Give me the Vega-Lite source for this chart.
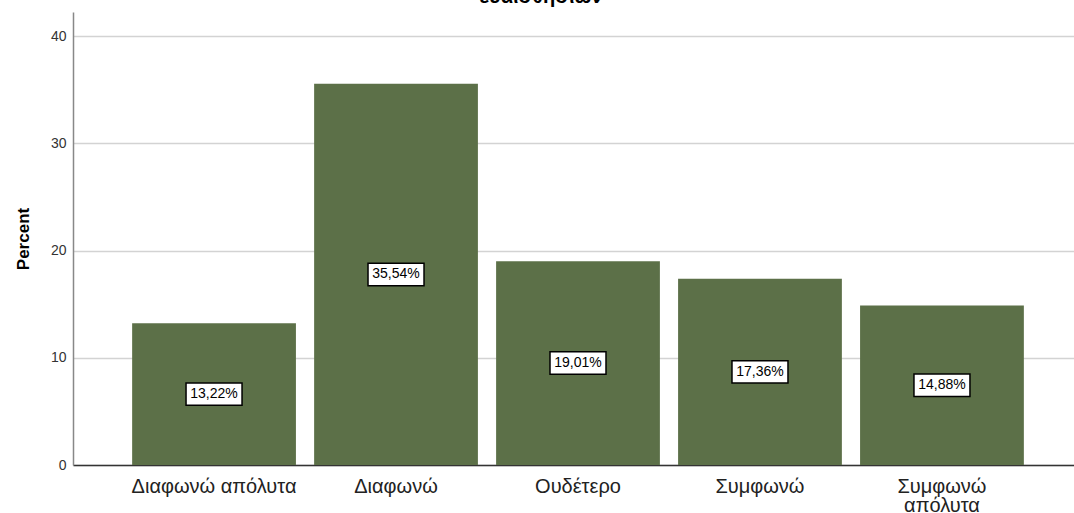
{
  "$schema": "https://vega.github.io/schema/vega-lite/v6.json",
  "width": 1010,
  "height": 453,
  "autosize": "none",
  "padding": {"left": 73, "top": 12, "right": 0, "bottom": 48},
  "background": "white",
  "config": {"view": {"stroke": null}, "font": "Liberation Sans"},
  "title": {"text": "ευαισθησιών", "fontSize": 20, "fontWeight": "bold", "anchor": "middle", "offset": 5, "dx": -37, "color": "black", "font": "Liberation Sans"},
  "data": {"values": [
    {"cat": "Διαφωνώ απόλυτα", "pct": 13.22, "label": "13,22%"},
    {"cat": "Διαφωνώ", "pct": 35.54, "label": "35,54%"},
    {"cat": "Ουδέτερο", "pct": 19.01, "label": "19,01%"},
    {"cat": "Συμφωνώ", "pct": 17.36, "label": "17,36%"},
    {"cat": "Συμφωνώ απόλυτα", "pct": 14.88, "label": "14,88%"}
  ]},
  "layer": [
    {
      "mark": {"type": "bar", "color": "#5c7048"},
      "encoding": {
        "x": {"field": "cat", "type": "nominal", "sort": null,
          "scale": {"paddingInner": 0.1, "paddingOuter": 0.325},
          "axis": {"title": null, "labelAngle": 0, "labelFontSize": 20, "labelColor": "#222", "labelPadding": 11, "ticks": false, "domainColor": "#333", "domainWidth": 1.5, "grid": false, "labelLineHeight": 19,
            "labelExpr": "datum.label == 'Συμφωνώ απόλυτα' ? ['Συμφωνώ', 'απόλυτα'] : datum.label"}},
        "y": {"field": "pct", "type": "quantitative",
          "scale": {"domain": [0, 42.24], "nice": false},
          "axis": {"title": "Percent", "titleFontSize": 17, "titleFontWeight": "bold", "titleColor": "black", "titlePadding": 18,
            "values": [0, 10, 20, 30, 40], "ticks": false, "labelPadding": 7, "labelFontSize": 14, "labelColor": "#333",
            "domainColor": "#888", "domainWidth": 1.5, "grid": true, "gridColor": "#d3d3d3", "gridWidth": 1.5}}
      }
    },
    {
      "mark": {"type": "point", "shape": "M-1,-0.4L1,-0.4L1,0.4L-1,0.4Z", "size": 3136, "filled": false, "fill": "white", "fillOpacity": 1, "stroke": "black", "strokeWidth": 1.5, "opacity": 1},
      "encoding": {
        "x": {"field": "cat", "type": "nominal", "sort": null},
        "y": {"field": "pct", "type": "quantitative", "scale": {"domain": [0, 84.48], "nice": false}, "axis": null}
      }
    },
    {
      "mark": {"type": "text", "fontSize": 14, "color": "black", "font": "Liberation Sans", "baseline": "middle", "align": "center"},
      "encoding": {
        "x": {"field": "cat", "type": "nominal", "sort": null},
        "y": {"field": "pct", "type": "quantitative", "scale": {"domain": [0, 84.48], "nice": false}, "axis": null},
        "text": {"field": "label"}
      }
    }
  ],
  "resolve": {"scale": {"y": "independent"}}
}
